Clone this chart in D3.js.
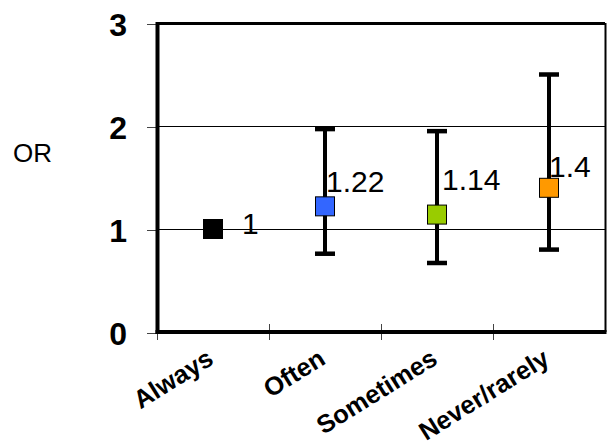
<!DOCTYPE html>
<html>
<head>
<meta charset="utf-8">
<script src="https://cdn.jsdelivr.net/npm/d3@7"></script>
<style>
  html, body { margin: 0; padding: 0; background: #fff; }
  svg { display: block; font-family: Arial, "Liberation Sans", sans-serif; }
</style>
</head>
<body>
<svg id="chart" width="608" height="445"></svg>
<script>
// Odds ratios with 95% confidence intervals by frequency group
const categories = ["Always", "Often", "Sometimes", "Never/rarely"];
const oddsRatios = [1, 1.22, 1.14, 1.4];
const ciLower = [null, 0.76, 0.67, 0.80];
const ciUpper = [null, 1.97, 1.95, 2.50];
const yTicks = [0, 1, 2, 3];
const colors = ["#000000", "#3366FF", "#99CC00", "#FF9900"];

// value-label nudges (px) relative to each marker
const labelNudge = [[29, 5], [1, -14], [5, -25], [0, -11]];

const svg = d3.select("#chart");
const plot = { left: 157, right: 605, top: 23, bottom: 332 };

const x = d3.scaleBand().domain(categories).range([plot.left, plot.right]);
const y = d3.scaleLinear().domain([0, 3]).range([plot.bottom, plot.top]);

// gridlines
svg.append("g").selectAll("line")
  .data(yTicks.filter(t => t > 0 && t < 3))
  .join("line")
  .attr("x1", plot.left).attr("x2", plot.right)
  .attr("y1", d => y(d) + 0.5).attr("y2", d => y(d) + 0.5)
  .attr("stroke", "#000").attr("stroke-width", 1)
  .attr("shape-rendering", "crispEdges");

// y axis ticks and labels
const yAxis = d3.axisLeft(y).tickValues(yTicks).tickSize(10).tickPadding(20)
  .tickFormat(d3.format("d"));
const gy = svg.append("g").attr("transform", `translate(${plot.left},0.5)`).call(yAxis);
gy.select(".domain").remove();
gy.selectAll(".tick line").attr("stroke", "#444").attr("stroke-width", 1)
  .attr("shape-rendering", "crispEdges");
gy.selectAll(".tick text")
  .attr("font-size", 32).attr("font-weight", "bold").attr("fill", "#000")
  .attr("font-family", "Arial, 'Liberation Sans', sans-serif")
  .attr("dy", "0.36em");

// x axis boundary ticks crossing the baseline
const bounds = categories.map(c => x(c));
svg.append("g").selectAll("line")
  .data(bounds)
  .join("line")
  .attr("x1", d => d + 0.5).attr("x2", d => d + 0.5)
  .attr("y1", plot.bottom - 8).attr("y2", plot.bottom + 8)
  .attr("stroke", "#444").attr("stroke-width", 1)
  .attr("shape-rendering", "crispEdges");

// plot frame
svg.append("line").attr("x1", plot.left).attr("x2", plot.right)
  .attr("y1", plot.top + 0.5).attr("y2", plot.top + 0.5)
  .attr("stroke", "#000").attr("stroke-width", 3);
svg.append("line").attr("x1", plot.right + 0.5).attr("x2", plot.right + 0.5)
  .attr("y1", plot.top).attr("y2", plot.bottom)
  .attr("stroke", "#000").attr("stroke-width", 2);
svg.append("line").attr("x1", plot.left + 0.5).attr("x2", plot.left + 0.5)
  .attr("y1", plot.top - 1).attr("y2", plot.bottom + 2)
  .attr("stroke", "#000").attr("stroke-width", 4);
svg.append("line").attr("x1", plot.left - 1.5).attr("x2", plot.right + 1.5)
  .attr("y1", plot.bottom).attr("y2", plot.bottom)
  .attr("stroke", "#000").attr("stroke-width", 4);

// category labels
svg.append("g").selectAll("text")
  .data(categories)
  .join("text")
  .attr("transform", d => `translate(${x(d) + x.bandwidth() / 2 + 2},${plot.bottom + 31}) rotate(-32)`)
  .attr("text-anchor", "end")
  .attr("font-size", 25.5).attr("font-weight", "bold").attr("fill", "#000")
  .text(d => d);

// y axis title
svg.append("text").attr("x", 13).attr("y", 162)
  .attr("font-size", 26).attr("fill", "#000").text("OR");

const cx = i => x(categories[i]) + x.bandwidth() / 2;

// confidence interval bars
const ciData = categories.map((c, i) => ({ i, lo: ciLower[i], hi: ciUpper[i] }))
  .filter(d => d.lo !== null);
const ci = svg.append("g");
ci.selectAll("line.stem").data(ciData).join("line").attr("class", "stem")
  .attr("x1", d => cx(d.i)).attr("x2", d => cx(d.i))
  .attr("y1", d => y(d.lo)).attr("y2", d => y(d.hi))
  .attr("stroke", "#000").attr("stroke-width", 4);
ci.selectAll("line.capHi").data(ciData).join("line").attr("class", "capHi")
  .attr("x1", d => cx(d.i) - 10).attr("x2", d => cx(d.i) + 10)
  .attr("y1", d => y(d.hi)).attr("y2", d => y(d.hi))
  .attr("stroke", "#000").attr("stroke-width", 4.5);
ci.selectAll("line.capLo").data(ciData).join("line").attr("class", "capLo")
  .attr("x1", d => cx(d.i) - 10).attr("x2", d => cx(d.i) + 10)
  .attr("y1", d => y(d.lo)).attr("y2", d => y(d.lo))
  .attr("stroke", "#000").attr("stroke-width", 4.5);

// point markers
svg.append("g").selectAll("rect")
  .data(oddsRatios)
  .join("rect")
  .attr("x", (d, i) => cx(i) - 9.5).attr("y", d => y(d) - 9.5)
  .attr("width", 19).attr("height", 19)
  .attr("fill", (d, i) => colors[i])
  .attr("stroke", "#000").attr("stroke-width", 1);

// value labels
svg.append("g").selectAll("text")
  .data(oddsRatios)
  .join("text")
  .attr("x", (d, i) => cx(i) + labelNudge[i][0])
  .attr("y", (d, i) => y(d) + labelNudge[i][1])
  .attr("font-size", 30).attr("fill", "#000")
  .text(d => d);
</script>
</body>
</html>
